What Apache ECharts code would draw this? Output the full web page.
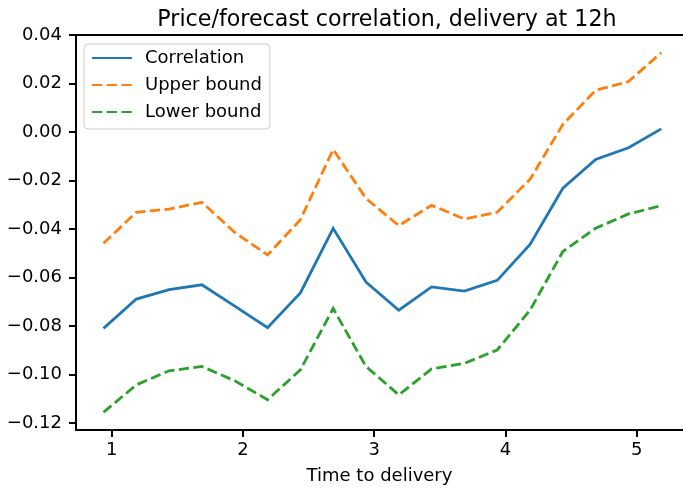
<!DOCTYPE html>
<html>
<head>
<meta charset="utf-8">
<script src="https://cdn.jsdelivr.net/npm/echarts@6/dist/echarts.min.js"></script>
<style>
  html, body { margin: 0; padding: 0; background: #fff; overflow: hidden; }
  #chart { width: 683px; height: 490px; }
</style>
</head>
<body>
<div id="chart"></div>
<script>
// Time to delivery (x) for each estimate
const timeToDelivery = [0.9375, 1.1875, 1.4375, 1.6875, 1.9375, 2.1875, 2.4375, 2.6875, 2.9375,
  3.1875, 3.4375, 3.6875, 3.9375, 4.1875, 4.4375, 4.6875, 4.9375, 5.1875];

// Correlation estimate and its confidence bounds
const correlation = [-0.0810, -0.0689, -0.0650, -0.0630, -0.0718, -0.0807, -0.0664, -0.0397, -0.0619,
  -0.0735, -0.0639, -0.0656, -0.0612, -0.0464, -0.0232, -0.0113, -0.0065, 0.0013];
const upperBound = [-0.0459, -0.0331, -0.0318, -0.0290, -0.0414, -0.0507, -0.0362, -0.0072, -0.0274,
  -0.0386, -0.0302, -0.0359, -0.0331, -0.0195, 0.0031, 0.0172, 0.0208, 0.0327];
const lowerBound = [-0.1156, -0.1043, -0.0985, -0.0967, -0.1026, -0.1104, -0.0981, -0.0728, -0.0967,
  -0.1084, -0.0977, -0.0954, -0.0899, -0.0735, -0.0493, -0.0397, -0.0338, -0.0304];

// Axis tick positions
const xTicks = [1, 2, 3, 4, 5];
const yTicks = [-0.12, -0.10, -0.08, -0.06, -0.04, -0.02, 0.00, 0.02, 0.04];

const FONT = 'DejaVu Sans';
const X_MIN = 0.728, X_MAX = 5.353; // the frame is cut off at the right edge
const pairs = ys => timeToDelivery.map((x, i) => [x, ys[i]]);
const fmtY = v => {
  const s = Math.abs(v) < 1e-9 ? '0.00' : Math.abs(v).toFixed(2);
  return v < -1e-9 ? '\u2212' + s : s;
};

const chart = echarts.init(document.getElementById('chart'), null, { renderer: 'canvas' });

const lineSeries = (name, data, color, dashed) => ({
  name, type: 'line', data: pairs(data), xAxisIndex: 0,
  symbol: 'none', showSymbol: false, animation: false,
  lineStyle: { color, width: 2.8, type: dashed ? [10.3, 4.4] : 'solid', cap: 'butt', join: 'miter' },
  itemStyle: { color }
});

const spine = { show: true, onZero: false, lineStyle: { color: '#000', width: 2 } };

chart.setOption({
  animation: false,
  backgroundColor: '#ffffff',
  title: {
    text: 'Price/forecast correlation, delivery at 12h',
    left: 382, top: 4, textAlign: 'center',
    textStyle: { fontFamily: FONT, fontSize: 22.2, fontWeight: 'normal', color: '#000' }
  },
  grid: { left: 76, top: 35, right: 0, bottom: 58, show: false },
  legend: {
    left: 84, top: 44, orient: 'vertical',
    itemWidth: 40, itemHeight: 18, itemGap: 9,
    padding: [5, 8, 8, 7],
    backgroundColor: 'rgba(255,255,255,0.8)',
    borderColor: '#cccccc', borderWidth: 1, borderRadius: 4,
    itemStyle: { color: 'transparent', borderWidth: 0, opacity: 0 },
    textStyle: { fontFamily: FONT, fontSize: 18, color: '#000', padding: [0, 0, 0, 8] },
    data: ['Correlation', 'Upper bound', 'Lower bound']
  },
  xAxis: [{
    type: 'value', min: X_MIN, max: X_MAX, position: 'bottom',
    name: 'Time to delivery', nameLocation: 'middle', nameGap: 37,
    nameTextStyle: { fontFamily: FONT, fontSize: 18, color: '#000' },
    axisLine: spine,
    axisTick: { show: true, inside: false, length: 7, lineStyle: { color: '#000', width: 2 }, customValues: xTicks },
    axisLabel: { fontFamily: FONT, fontSize: 18, color: '#000', margin: 11, customValues: xTicks,
      formatter: v => String(Math.round(v)) },
    splitLine: { show: false }
  }, {
    // top spine only
    type: 'value', min: X_MIN, max: X_MAX, position: 'top',
    axisLine: spine, axisTick: { show: false }, axisLabel: { show: false }, splitLine: { show: false }
  }],
  yAxis: {
    type: 'value', min: -0.1229, max: 0.04,
    axisLine: spine,
    axisTick: { show: true, inside: false, length: 7, lineStyle: { color: '#000', width: 2 }, customValues: yTicks },
    axisLabel: { fontFamily: FONT, fontSize: 18, color: '#000', margin: 14, customValues: yTicks,
      formatter: v => fmtY(v) },
    splitLine: { show: false }
  },
  series: [
    lineSeries('Correlation', correlation, '#1f77b4', false),
    lineSeries('Upper bound', upperBound, '#ff7f0e', true),
    lineSeries('Lower bound', lowerBound, '#2ca02c', true)
  ]
});
</script>
</body>
</html>
